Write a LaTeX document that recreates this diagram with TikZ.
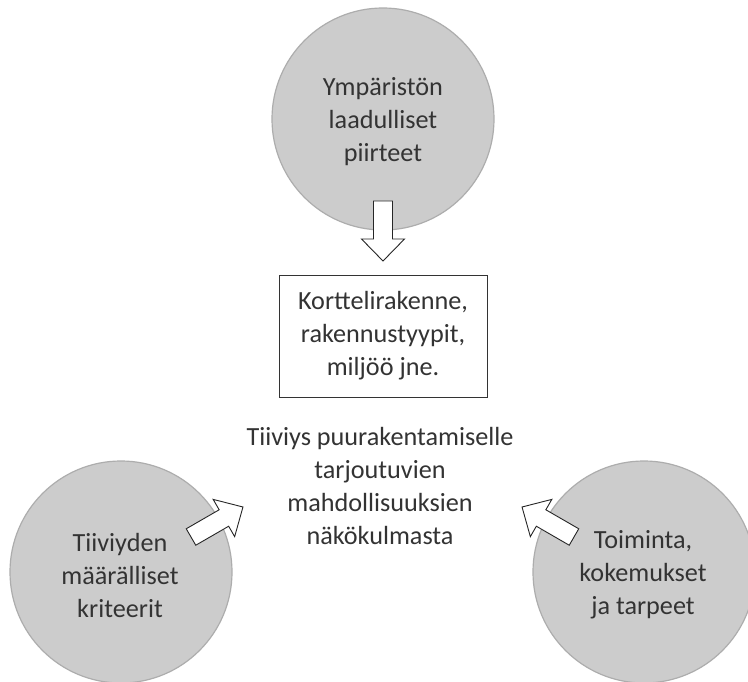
\documentclass[tikz,border=0pt]{standalone}
\usepackage{fontspec}
\setmainfont{Carlito}
\begin{document}
\begin{tikzpicture}[x=1pt,y=-1pt,
  txt/.style={font=\fontsize{26.2}{33}\selectfont, text=black!80, align=center, inner sep=0pt},
  bubble/.style={circle, fill=black!20, draw=black!32, line width=1.2pt, minimum size=222pt, inner sep=0pt},
  framebox/.style={draw=black!80, line width=0.9pt, minimum width=208pt, minimum height=122pt, inner sep=0pt},
  blockarrow/.pic={\draw[draw=black!85, fill=white, line width=0.9pt, line join=miter]
     (0,-9.5) -- (38,-9.5) -- (38,-21.5) -- (60,0) -- (38,21.5) -- (38,9.5) -- (0,9.5) -- cycle;}
]
\useasboundingbox (0,0) rectangle (748,682);
\fill[white] (0,0) rectangle (748,682);
\begin{scope}
\clip (0,0) rectangle (748,682);
\node[bubble] (top) at (383,119) {};
\node[bubble] (left) at (121,572) {};
\node[bubble] (right) at (644,572) {};
\end{scope}
\node[txt] (toptxt) at (383,122) {Ympäristön\\laadulliset\\piirteet};
\node[txt] (lefttxt) at (120,575) {Tiiviyden\\määrälliset\\kriteerit};
\node[txt] (righttxt) at (643,575) {Toiminta,\\kokemukset\\ja tarpeet};
\node[framebox, txt, draw=black!80, minimum width=208pt, minimum height=122pt] (box) at (383,336) {Korttelirakenne,\\rakennustyypit,\\miljöö jne.};
\node[txt] (center) at (380,486) {Tiiviys puurakentamiselle\\tarjoutuvien\\mahdollisuuksien\\näkökulmasta};
\pic[rotate=-90] at (383,201) {blockarrow};
\pic[rotate=30] at (191,537) {blockarrow};
\pic[rotate=150] at (574,537) {blockarrow};
\end{tikzpicture}
\end{document}
